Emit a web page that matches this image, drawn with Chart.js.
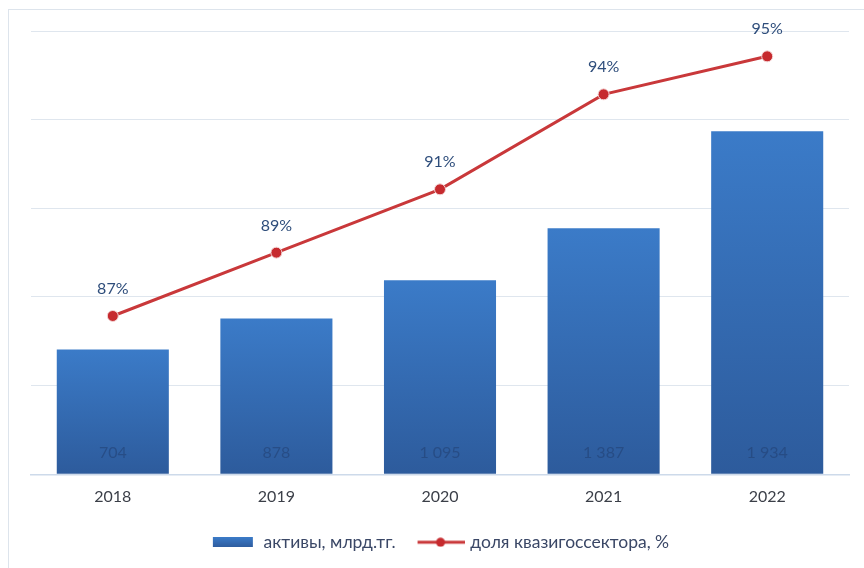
<!DOCTYPE html>
<html>
<head>
<meta charset="utf-8">
<script src="https://cdn.jsdelivr.net/npm/chart.js@4.4.1/dist/chart.umd.min.js"></script>
<style>
	html, body { margin: 0; padding: 0; background: #fff; overflow: hidden; }
	#frame { position: absolute; left: 8px; top: 9px; width: 900px; height: 600px; border: 1px solid #dde4ec; }
	#wrap { position: absolute; left: 0; top: 0; width: 864px; height: 568px; }
</style>
</head>
<body>
<div id="frame"></div>
<div id="wrap"><canvas id="myChart" width="864" height="568"></canvas></div>
<script>
var years = ['2018', '2019', '2020', '2021', '2022'];
var assets = [704, 878, 1095, 1387, 1934];
var assetLabels = ['704', '878', '1 095', '1 387', '1 934'];
var share = [87, 89, 91, 94, 95.2];
var shareLabels = ['87%', '89%', '91%', '94%', '95%'];

var FONT = 'Lato, "Open Sans", sans-serif';

// legend symbols
function _makeBarSymbol() {
	var c = document.createElement('canvas');
	c.width = 44; c.height = 10;
	var g = c.getContext('2d');
	var grad = g.createLinearGradient(0, 0, 0, 10);
	grad.addColorStop(0, '#3b7bc8');
	grad.addColorStop(1, '#2e5c9e');
	g.fillStyle = grad;
	g.fillRect(2, 0, 40, 10);
	return c;
}
function _makeLineSymbol() {
	var c = document.createElement('canvas');
	c.width = 50; c.height = 10;
	var g = c.getContext('2d');
	g.strokeStyle = '#c9383a';
	g.lineWidth = 3;
	g.beginPath(); g.moveTo(3, 5); g.lineTo(50, 5); g.stroke();
	g.fillStyle = '#c62a2e';
	g.beginPath(); g.arc(26, 5, 4.5, 0, Math.PI * 2); g.fill();
	return c;
}
var barSymbol = _makeBarSymbol();
var lineSymbol = _makeLineSymbol();

var valueLabels = {
	id: 'valueLabels',
	afterDatasetsDraw: function(chart) {
		var ctx = chart.ctx;
		ctx.save();
		ctx.textAlign = 'center';
		ctx.textBaseline = 'middle';
		ctx.font = '16px ' + FONT;
		var barMeta = chart.getDatasetMeta(1);
		barMeta.data.forEach(function(el, i) {
			ctx.fillStyle = 'rgba(32,62,112,0.55)';
			ctx.fillText(assetLabels[i], el.x, chart.scales.y.bottom - 21);
		});
		var lineMeta = chart.getDatasetMeta(0);
		lineMeta.data.forEach(function(el, i) {
			ctx.fillStyle = '#2e4d7b';
			ctx.fillText(shareLabels[i], el.x, el.y - 27);
		});
		ctx.restore();
	}
};

var _config = {
	data: {
		labels: years,
		datasets: [
			{
				type: 'line',
				label: 'доля квазигоссектора, %',
				data: share,
				yAxisID: 'y1',
				borderColor: '#c9383a',
				borderWidth: 3,
				pointRadius: 5.5,
				pointBackgroundColor: '#c62a2e',
				pointBorderColor: '#f3d6d6',
				pointBorderWidth: 1,
				tension: 0,
				order: 0
			},
			{
				type: 'bar',
				label: 'активы, млрд.тг.',
				data: assets,
				yAxisID: 'y',
				categoryPercentage: 0.685,
				barPercentage: 1,
				backgroundColor: function(context) {
					var chart = context.chart;
					if (!chart.chartArea || !chart.scales.y) return '#3468b0';
					var y0 = chart.scales.y.getPixelForValue(context.raw);
					var y1 = chart.scales.y.bottom;
					if (!isFinite(y0)) return '#3468b0';
					var grad = chart.ctx.createLinearGradient(0, y0, 0, y1);
					grad.addColorStop(0, '#3b7bc8');
					grad.addColorStop(1, '#2d5b9c');
					return grad;
				},
				order: 1
			}
		]
	},
	options: {
		responsive: false,
		animation: false,
		layout: {
			padding: { left: 31, right: 15, top: 31, bottom: 7 }
		},
		plugins: {
			legend: {
				position: 'bottom',
				reverse: true,
				maxHeight: 53,
				labels: {
					usePointStyle: true,
					pointStyleWidth: 44,
					padding: 22,
					color: '#3a4766',
					font: { family: FONT, size: 17.5 },
					generateLabels: function(chart) {
						var items = Chart.defaults.plugins.legend.labels.generateLabels(chart);
						items.forEach(function(item) {
							item.pointStyle = item.datasetIndex == 1 ? barSymbol : lineSymbol;
						});
						return items;
					}
				}
			},
			tooltip: { enabled: false }
		},
		scales: {
			x: {
				grid: { display: false },
				border: { color: '#cddaea', width: 1.5 },
				ticks: {
					color: '#3b3f48',
					padding: 5,
					font: { family: FONT, size: 16 }
				}
			},
			y: {
				min: 0,
				max: 2500,
				position: 'left',
				ticks: { display: false, stepSize: 500 },
				border: { display: false },
				grid: { color: '#dfe6ee', drawTicks: false }
			},
			y1: {
				display: false,
				min: 82,
				max: 96,
				position: 'right'
			}
		}
	},
	plugins: [valueLabels]
};

var myChart = new Chart(document.getElementById('myChart'), _config);
</script>
</body>
</html>
